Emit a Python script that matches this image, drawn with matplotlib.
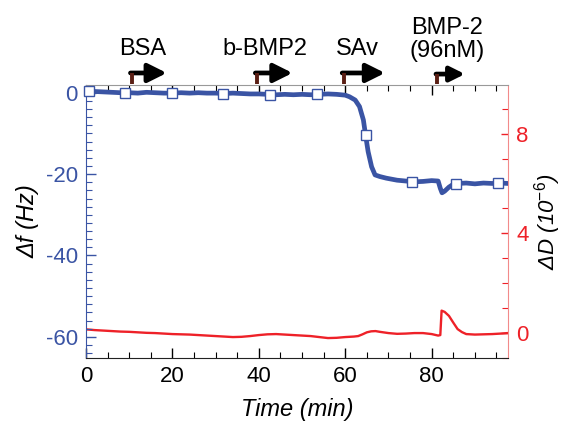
import matplotlib
matplotlib.use("Agg")
import matplotlib.pyplot as plt
from matplotlib.ticker import MultipleLocator

plt.rcParams['font.family'] = ['Liberation Sans', 'DejaVu Sans']
plt.rcParams['axes.unicode_minus'] = False
plt.rcParams['mathtext.fontset'] = 'custom'
plt.rcParams['mathtext.it'] = 'Liberation Sans:italic'
plt.rcParams['mathtext.rm'] = 'Liberation Sans'
plt.rcParams['mathtext.default'] = 'it'

# Frequency shift trace (Hz)
time_f = [0, 2, 4, 6, 8, 10, 12, 14, 16, 18, 20, 22, 24, 26, 28, 30, 32, 34,
          36, 38, 40, 42, 44, 46, 48, 50, 52, 54, 56, 58, 60, 61, 62.3, 63.3,
          64.2, 64.7, 65.3, 66.1, 66.9, 68, 69.5, 72, 74, 76, 78, 80, 81.5,
          82.0, 82.4, 83, 84, 85, 86, 88, 90, 92, 94, 96, 97.6]
delta_f = [0.4, 0.3, 0.2, 0.1, 0.0, 0.0, -0.1, 0.1, 0.0, -0.1, -0.1, 0.0,
           -0.1, 0.0, -0.1, -0.1, -0.2, -0.1, -0.2, -0.3, -0.3, -0.4, -0.5,
           -0.4, -0.5, -0.4, -0.5, -0.4, -0.3, -0.4, -0.6, -1.0, -1.8, -3.4,
           -6.7, -10.4, -14.5, -18.2, -20.2, -20.6, -21.0, -21.5, -21.7,
           -21.9, -21.8, -21.6, -21.7, -23.5, -24.6, -24.2, -23.2, -22.5,
           -22.3, -22.2, -22.4, -22.2, -22.3, -22.2, -22.3]

# Open-square markers along the frequency trace
marker_time = [0.6, 9.0, 20.0, 31.6, 42.7, 53.4, 64.7, 75.4, 85.6, 95.4]
marker_f = [0.3, 0.0, -0.1, -0.2, -0.5, -0.4, -10.4, -21.9, -22.4, -22.3]

# Dissipation trace (1e-6)
time_d = [0, 2, 4, 6, 8, 10, 12, 14, 16, 18, 20, 22, 24, 26, 28, 30, 32, 34,
          36, 38, 40, 42, 44, 46, 48, 50, 52, 54, 56, 58, 60, 62, 63, 64, 65,
          66, 67, 68, 70, 72, 74, 76, 78, 80, 81.5, 82.0, 82.3, 83, 84, 85,
          86, 87, 88, 90, 92, 94, 96, 97.6]
delta_d = [0.15, 0.12, 0.10, 0.08, 0.06, 0.05, 0.03, 0.01, 0.0, -0.02, -0.04,
           -0.05, -0.06, -0.08, -0.10, -0.12, -0.14, -0.16, -0.15, -0.12,
           -0.08, -0.05, -0.04, -0.06, -0.08, -0.10, -0.12, -0.16, -0.20,
           -0.19, -0.16, -0.14, -0.12, -0.05, 0.03, 0.07, 0.08, 0.05, 0.0,
           -0.03, -0.02, 0.0, 0.0, -0.04, -0.10, -0.08, 0.90, 0.85, 0.69,
           0.42, 0.16, 0.04, -0.04, -0.06, -0.05, -0.04, -0.02, 0.0]

# Injection events
event_time = [10.6, 39.5, 59.6, 81.3]
event_end = [18.7, 47.8, 69.2, 87.7]
event_label = ['BSA', 'b-BMP2', 'SAv', 'BMP-2\n(96nM)']
label_x = [13.2, 41.4, 62.7, 83.5]

BLUE = '#3a54a4'
RED = '#ee2128'

fig = plt.figure(figsize=(5.63, 4.26), dpi=100)
ax = fig.add_axes([0.1527, 0.1596, 0.7491, 0.6409])
ax2 = ax.twinx()

ax2.plot(time_d, delta_d, color=RED, lw=1.7, zorder=2)
ax.plot(time_f, delta_f, color=BLUE, lw=3.4, zorder=3)
ax.plot(marker_time, marker_f, ls='none', marker='s', ms=7.5,
        mfc='white', mec=BLUE, mew=1.0, zorder=4, clip_on=False)
ax.set_zorder(ax2.get_zorder() + 1)
ax.patch.set_visible(False)

ax.set_xlim(0, 97.6)
ax.set_ylim(-65.2, 1.9)
ax2.set_ylim(-1.0, 9.95)

ax.xaxis.set_major_locator(MultipleLocator(20))
ax.xaxis.set_minor_locator(MultipleLocator(5))
ax.yaxis.set_major_locator(MultipleLocator(20))
ax.yaxis.set_minor_locator(MultipleLocator(2))
ax2.yaxis.set_major_locator(MultipleLocator(4))
ax2.yaxis.set_minor_locator(MultipleLocator(1))

ax.tick_params(axis='x', which='both', direction='in', top=True,
               colors='black', labelsize=16, pad=6)
ax.tick_params(axis='x', which='major', length=7, width=1)
ax.tick_params(axis='x', which='minor', length=4, width=0.8)
ax.tick_params(axis='y', which='both', direction='in', colors=BLUE,
               labelsize=16, pad=6)
ax.tick_params(axis='y', which='major', length=7, width=1)
ax.tick_params(axis='y', which='minor', length=4, width=0.8)
ax2.tick_params(axis='y', which='both', direction='in', colors=RED,
                labelsize=16, pad=6)
ax2.tick_params(axis='y', which='major', length=5, width=1)
ax2.tick_params(axis='y', which='minor', length=4, width=0.8)

ax.spines['left'].set_color(BLUE)
ax.spines['bottom'].set_color('#222222')
ax.spines['top'].set_color('#999999')
ax.spines['right'].set_visible(False)
ax2.spines['right'].set_color('#f28a8a')
ax2.spines['left'].set_visible(False)
ax2.spines['top'].set_visible(False)
ax2.spines['bottom'].set_visible(False)

ax.set_xlabel('Time (min)', fontsize=17, style='italic', labelpad=8)
ax.set_ylabel('\u0394f (Hz)', fontsize=17, style='italic', labelpad=4)
ax2.set_ylabel('\u0394D (10$^{-6}$)', fontsize=16, style='italic',
               rotation=90, labelpad=3)

trans = ax.get_xaxis_transform()
for t0, t1, lab, lx in zip(event_time, event_end, event_label, label_x):
    small = '\n' in lab
    y_shaft = 1.040 if small else 1.044
    ax.plot([t0, t0], [1.003, y_shaft], transform=trans, color='#5a1e14',
            lw=2.8, clip_on=False, solid_capstyle='butt', zorder=5)
    ax.annotate('', xy=(t1, y_shaft), xytext=(t0 - 0.3, y_shaft),
                xycoords=trans, textcoords=trans,
                arrowprops=dict(arrowstyle='-|>', lw=3.4, color='black',
                                mutation_scale=22 if small else 28,
                                shrinkA=0, shrinkB=0))
    if small:
        ax.text(lx, 1.168, lab, transform=trans, ha='center', va='center',
                fontsize=17, linespacing=1.05)
    else:
        ax.text(lx, 1.132, lab, transform=trans, ha='center', va='center',
                fontsize=17)

fig.savefig('out.png', dpi=100)
